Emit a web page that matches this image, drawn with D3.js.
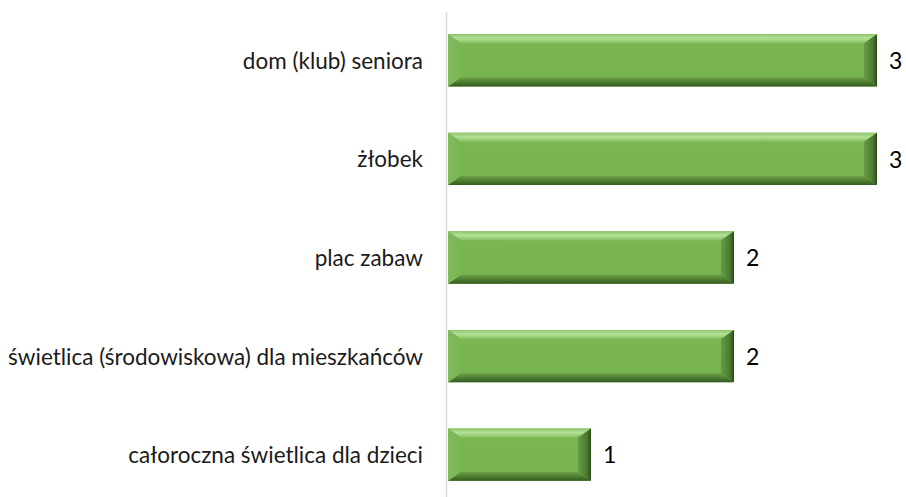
<!DOCTYPE html>
<html>
<head>
<meta charset="utf-8">
<script src="https://cdn.jsdelivr.net/npm/d3@7"></script>
<style>
  html, body { margin: 0; padding: 0; background: #fff; }
  svg { display: block; font-family: "Lato", "Open Sans", sans-serif; }
</style>
</head>
<body>
<svg id="chart" width="906" height="497"></svg>
<script>
// Facility types and the number of responses for each
const categories = [
  "dom (klub) seniora",
  "żłobek",
  "plac zabaw",
  "świetlica (środowiskowa) dla mieszkańców",
  "całoroczna świetlica dla dzieci"
];
const values = [3, 3, 2, 2, 1];

const width = 906, height = 497;
const svg = d3.select("#chart");

const x = d3.scaleLinear().domain([0, 3]).range([448, 877]);
const y = d3.scaleBand().domain(categories).range([11, 504]).paddingInner(0.47).paddingOuter(0.235);

// Gradients for the bevelled bar sides
const defs = svg.append("defs");
function grad(id, x2, y2, stops) {
  const g = defs.append("linearGradient").attr("id", id)
    .attr("x1", 0).attr("y1", 0).attr("x2", x2).attr("y2", y2);
  stops.forEach(([o, c]) => g.append("stop").attr("offset", o).attr("stop-color", c));
}
grad("gTop", 0, 1, [[0, "#8dc46b"], [0.45, "#b3e298"], [1, "#86bf62"]]);
grad("gBot", 0, 1, [[0, "#6b9f48"], [0.55, "#4c7b30"], [1, "#365a20"]]);
grad("gLeft", 1, 0, [[0, "#80bb5b"], [1, "#78b553"]]);
grad("gRight", 1, 0, [[0, "#689c45"], [0.7, "#4a792f"], [1, "#2a4718"]]);
grad("gFace", 0, 1, [[0, "#7ab753"], [1, "#76b34f"]]);

// Category axis line
svg.append("line")
  .attr("x1", x(0) - 1.5).attr("x2", x(0) - 1.5)
  .attr("y1", 12).attr("y2", height)
  .attr("stroke", "#d9d9d9").attr("stroke-width", 1.5);

const bx = 13, by = 9;
const bars = svg.append("g").selectAll("g").data(categories).join("g");

bars.each(function (c, i) {
  const g = d3.select(this);
  const x0 = x(0), x1 = x(values[i]);
  const y0 = y(c), y1 = y(c) + y.bandwidth();
  const pts = a => a.map(p => p.join(",")).join(" ");
  g.append("rect").attr("x", x0).attr("y", y0)
    .attr("width", x1 - x0).attr("height", y1 - y0).attr("fill", "url(#gFace)");
  g.append("polygon").attr("points", pts([[x0, y0], [x1, y0], [x1 - bx, y0 + by], [x0 + bx, y0 + by]]))
    .attr("fill", "url(#gTop)");
  g.append("polygon").attr("points", pts([[x0, y1], [x1, y1], [x1 - bx, y1 - by], [x0 + bx, y1 - by]]))
    .attr("fill", "url(#gBot)");
  g.append("polygon").attr("points", pts([[x0, y0], [x0 + bx, y0 + by], [x0 + bx, y1 - by], [x0, y1]]))
    .attr("fill", "url(#gLeft)");
  g.append("polygon").attr("points", pts([[x1, y0], [x1 - bx, y0 + by], [x1 - bx, y1 - by], [x1, y1]]))
    .attr("fill", "url(#gRight)");
});

// Value labels
svg.append("g").selectAll("text").data(categories).join("text")
  .attr("x", (c, i) => x(values[i]) + 12)
  .attr("y", c => y(c) + y.bandwidth() / 2)
  .attr("dy", "0.38em")
  .attr("font-size", 23)
  .attr("fill", "#000")
  .text((c, i) => values[i]);

// Category labels
svg.append("g").selectAll("text").data(categories).join("text")
  .attr("x", 423)
  .attr("y", c => y(c) + y.bandwidth() / 2)
  .attr("dy", "0.38em")
  .attr("text-anchor", "end")
  .attr("font-size", 22.5)
  .attr("fill", "#1a1a1a")
  .text(c => c);
</script>
</body>
</html>
